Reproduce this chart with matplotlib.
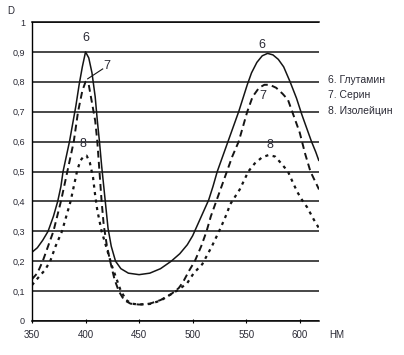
import matplotlib
matplotlib.use("Agg")
import matplotlib.pyplot as plt

# ---- data ----
wl6 = [350, 355, 360, 365, 370, 374, 377, 379, 382, 385, 388, 391, 394, 397, 400,
       403, 406, 409, 411, 413, 415, 417, 419, 421, 424, 428, 433, 440, 450, 460,
       470, 480, 488, 495, 500, 505, 510, 515, 519, 523, 528, 533, 538, 543, 547,
       551, 555, 560, 565, 570, 575, 580, 585, 591, 597, 602, 607, 611, 615, 618]
d6 = [0.23, 0.245, 0.27, 0.30, 0.35, 0.40, 0.45, 0.50, 0.55, 0.60, 0.66, 0.72, 0.79, 0.85, 0.90,
      0.88, 0.83, 0.75, 0.67, 0.60, 0.52, 0.45, 0.38, 0.31, 0.25, 0.20, 0.175, 0.16, 0.155, 0.16,
      0.175, 0.20, 0.225, 0.255, 0.285, 0.325, 0.365, 0.405, 0.45, 0.50, 0.55, 0.60, 0.65, 0.70, 0.745,
      0.79, 0.83, 0.865, 0.887, 0.895, 0.89, 0.875, 0.85, 0.80, 0.745, 0.69, 0.64, 0.60, 0.565, 0.535]

wl7 = [350, 355, 360, 365, 370, 377, 383, 389, 393, 397, 400, 403, 406, 409, 411,
       413, 415, 417, 420, 423, 427, 431, 436, 442, 450, 460, 470, 480, 487, 491,
       497, 502, 508, 513, 517, 522, 527, 532, 537, 543, 547, 551, 556, 562, 567,
       572, 578, 584, 589, 595, 600, 605, 610, 614, 618]
d7 = [0.14, 0.16, 0.20, 0.25, 0.30, 0.40, 0.50, 0.60, 0.70, 0.77, 0.80, 0.79, 0.73, 0.67, 0.60,
      0.50, 0.40, 0.32, 0.25, 0.20, 0.14, 0.10, 0.07, 0.058, 0.055, 0.058, 0.07, 0.09, 0.11, 0.13,
      0.17, 0.20, 0.25, 0.30, 0.35, 0.40, 0.45, 0.50, 0.55, 0.60, 0.65, 0.70, 0.75, 0.78, 0.79,
      0.79, 0.78, 0.76, 0.74, 0.68, 0.63, 0.56, 0.50, 0.47, 0.44]

wl8 = [350, 357, 362, 367, 372, 378, 382, 386, 389, 392, 395, 398, 401, 404, 407,
       409, 411, 415, 420, 425, 429, 433, 438, 443, 450, 460, 470, 480, 487, 495,
       501, 509, 518, 526, 532, 535, 544, 548, 552, 558, 565, 571, 577, 582, 589,
       594, 598, 603, 607, 613, 618]
d8 = [0.12, 0.15, 0.17, 0.20, 0.25, 0.30, 0.35, 0.40, 0.45, 0.50, 0.535, 0.55, 0.553, 0.53, 0.48,
      0.42, 0.37, 0.30, 0.24, 0.18, 0.14, 0.10, 0.07, 0.058, 0.055, 0.057, 0.068, 0.09, 0.105, 0.127,
      0.16, 0.19, 0.25, 0.31, 0.36, 0.39, 0.44, 0.47, 0.50, 0.527, 0.548, 0.555, 0.55, 0.53, 0.50,
      0.46, 0.43, 0.40, 0.38, 0.34, 0.31]

x_ticks = [350, 400, 450, 500, 550, 600]
y_ticks = [0, 0.1, 0.2, 0.3, 0.4, 0.5, 0.6, 0.7, 0.8, 0.9, 1.0]
y_tick_labels = ["0", "0,1", "0,2", "0,3", "0,4", "0,5", "0,6", "0,7", "0,8", "0,9", "1"]
legend_lines = ["6. Глутамин", "7. Серин", "8. Изолейцин"]
curve_labels = ["6", "7", "8"]

narrow = ["Liberation Sans Narrow", "Liberation Sans", "DejaVu Sans"]
sans = ["Liberation Sans", "DejaVu Sans"]
ink = "#151515"
txt = "#2a2a35"

fig = plt.figure(figsize=(4.04, 3.55), dpi=100)
ax = fig.add_axes([32 / 404, 34 / 355, (319 - 32) / 404, (321 - 22) / 355])

ax.plot(wl6, d6, color=ink, lw=1.1, solid_capstyle="butt", solid_joinstyle="round")
ax.plot(wl7, d7, color=ink, lw=1.4, dashes=(3.5, 2.2))
ax.plot(wl8, d8, color=ink, lw=1.6, dashes=(1.4, 2.0))

ax.set_xlim(350, 618)
ax.set_ylim(0, 1.0)
ax.set_xticks(x_ticks)
ax.set_xticklabels([str(v) for v in x_ticks], fontfamily=narrow, fontsize=7, color=txt)
ax.set_yticks(y_ticks)
ax.set_yticklabels(y_tick_labels, fontfamily=narrow, fontsize=6.5, color=txt)
ax.tick_params(axis="x", length=3, width=0.8, pad=5, direction="inout")
ax.tick_params(axis="y", length=0, pad=5)
ax.yaxis.grid(True, color=ink, lw=1.1)
ax.set_axisbelow(True)
ax.spines["right"].set_visible(False)
ax.spines["top"].set_linewidth(1.1)
ax.spines["left"].set_linewidth(1.0)
ax.spines["bottom"].set_linewidth(1.1)

# curve labels
ax.text(400, 0.947, curve_labels[0], ha="center", va="center", fontsize=9, color=txt, fontfamily=sans)
ax.text(420, 0.853, curve_labels[1], ha="center", va="center", fontsize=9, color=txt, fontfamily=sans)
ax.plot([416, 402], [0.843, 0.81], color=ink, lw=0.8)
ax.text(398, 0.593, curve_labels[2], ha="center", va="center", fontsize=9, color=txt, fontfamily=sans)
ax.text(565, 0.923, curve_labels[0], ha="center", va="center", fontsize=9, color=txt, fontfamily=sans)
ax.text(566, 0.753, curve_labels[1], ha="center", va="center", fontsize=9, color=txt, fontfamily=sans)
ax.text(572, 0.587, curve_labels[2], ha="center", va="center", fontsize=9, color=txt, fontfamily=sans)

# legend text
for i, t in enumerate(legend_lines):
    fig.text(328 / 404, 1 - (80 + 15.5 * i) / 355, t, ha="left", va="center",
             fontsize=7.5, color=txt, fontfamily=narrow)

fig.text(11 / 404, 1 - 11 / 355, "D", ha="center", va="center", fontsize=7, color=txt, fontfamily=narrow)
fig.text(337 / 404, 1 - 335 / 355, "НМ", ha="center", va="center", fontsize=7, color=txt, fontfamily=narrow)

fig.savefig("out.png", dpi=100, facecolor="white")
